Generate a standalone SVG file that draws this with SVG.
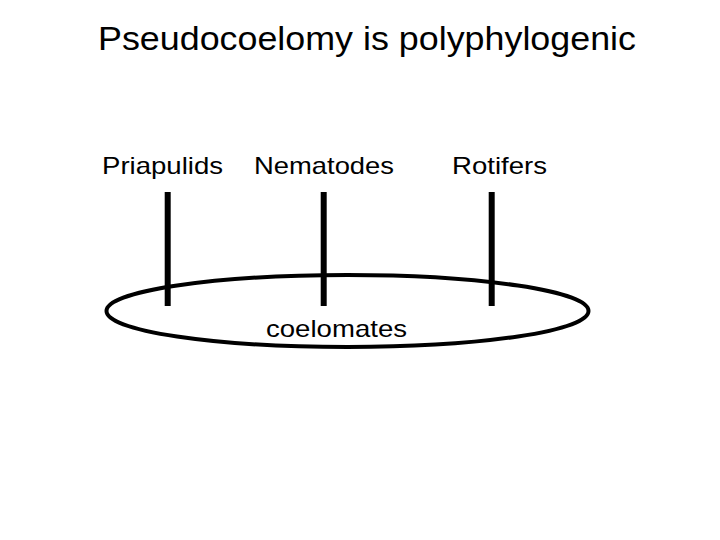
<svg xmlns="http://www.w3.org/2000/svg" width="720" height="540" viewBox="0 0 720 540">
<style>
text{font-family:"Liberation Sans",Arial,sans-serif;fill:#000}
.lbl{font-size:24px}
.br{stroke:#000;stroke-width:6;fill:none}
</style>
<rect width="720" height="540" fill="#fff"/>
<text x="98" y="50" font-size="33" textLength="538" lengthAdjust="spacingAndGlyphs">Pseudocoelomy is polyphylogenic</text>
<g id="coelomates">
<ellipse cx="347.5" cy="311" rx="241" ry="36" fill="none" stroke="#000" stroke-width="4"/>
<text class="lbl" x="266" y="337" textLength="141" lengthAdjust="spacingAndGlyphs">coelomates</text>
</g>
<g id="priapulids"><text class="lbl" x="102" y="174" textLength="121" lengthAdjust="spacingAndGlyphs">Priapulids</text></g>
<g id="nematodes"><text class="lbl" x="254" y="174" textLength="140" lengthAdjust="spacingAndGlyphs">Nematodes</text></g>
<g id="rotifers"><text class="lbl" x="452" y="174" textLength="95" lengthAdjust="spacingAndGlyphs">Rotifers</text></g>
<g id="connectors">
<line class="br" x1="167.7" y1="192" x2="167.7" y2="306"/>
<line class="br" x1="323.7" y1="192" x2="323.7" y2="306"/>
<line class="br" x1="491.7" y1="192" x2="491.7" y2="306"/>
</g>
</svg>
